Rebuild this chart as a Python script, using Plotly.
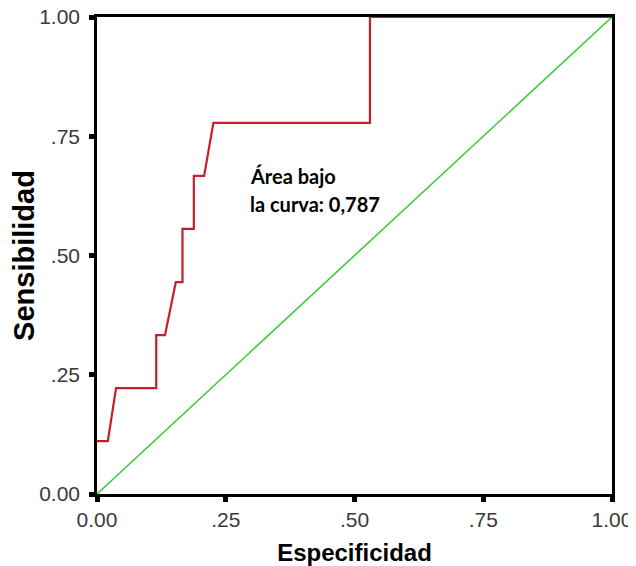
import plotly.graph_objects as go

# ROC curve data
roc_x = [0.0, 0.021, 0.037, 0.115, 0.115, 0.132, 0.153, 0.166, 0.166, 0.188, 0.188, 0.208, 0.226, 0.530, 0.530, 1.0]
roc_y = [0.111, 0.111, 0.222, 0.222, 0.333, 0.333, 0.444, 0.444, 0.556, 0.556, 0.667, 0.667, 0.778, 0.778, 1.0, 1.0]

ref_x = [0.0, 1.0]
ref_y = [0.0, 1.0]

tick_vals = [0.0, 0.25, 0.5, 0.75, 1.0]
tick_text = ["0.00", ".25", ".50", ".75", "1.00"]

annot_lines = ["Área bajo", "la curva: 0,787"]

fig = go.Figure()
fig.add_trace(go.Scatter(x=ref_x, y=ref_y, mode="lines",
                         line=dict(color="#3ccc3c", width=1.6), showlegend=False))
fig.add_trace(go.Scatter(x=roc_x, y=roc_y, mode="lines",
                         line=dict(color="#c81e28", width=2.2), showlegend=False))

axis_common = dict(
    range=[0, 1], tickvals=tick_vals, ticktext=tick_text,
    showgrid=False, zeroline=False,
    showline=True, linecolor="black", linewidth=2.5, mirror=True,
    ticks="outside", ticklen=5, tickwidth=5, tickcolor="black",
    tickfont=dict(family="Liberation Sans, Arial", size=21, color="#3a3a3a"),
    layer="below traces", automargin=False, ticklabeloverflow="allow",
)

fig.update_xaxes(**axis_common,
                 title=dict(text="Especificidad", standoff=15,
                            font=dict(family="Liberation Sans, Arial", size=24, color="black", weight="bold")))
fig.update_yaxes(**axis_common, ticklabelstandoff=5,
                 title=dict(text="Sensibilidad", standoff=0,
                            font=dict(family="Liberation Sans, Arial", size=29, color="black", weight="bold")))

fig.add_annotation(x=0.293, y=0.667, xref="x", yref="y", text=annot_lines[0],
                   showarrow=False, xanchor="left", yanchor="middle",
                   font=dict(family="Lato", size=20, color="black", weight="bold"))
fig.add_annotation(x=0.293, y=0.608, xref="x", yref="y", text=annot_lines[1],
                   showarrow=False, xanchor="left", yanchor="middle",
                   font=dict(family="Lato", size=20, color="black", weight="bold"))

# page body has an 8px default margin, so the figure is sized to fit the window
fig.update_layout(
    width=628, height=558,
    margin=dict(l=89, r=24, t=9, b=72),
    plot_bgcolor="white", paper_bgcolor="white",
)

fig.write_html("out.html")
